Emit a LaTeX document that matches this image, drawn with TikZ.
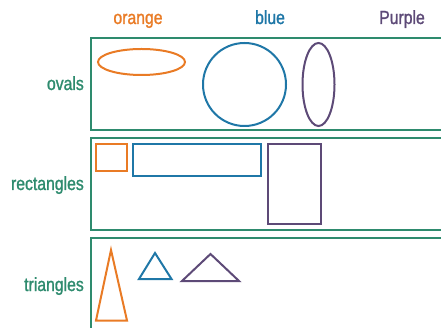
\documentclass[tikz,border=0pt]{standalone}
\usepackage{fontspec}
\setmainfont{Liberation Sans}[FakeStretch=0.83,FakeBold=1.3]
\definecolor{cgreen}{HTML}{2E8B6E}
\definecolor{corange}{HTML}{E97B25}
\definecolor{cblue}{HTML}{1F77A7}
\definecolor{cpurple}{HTML}{5D4A77}
\begin{document}
\begin{tikzpicture}[x=1pt,y=-1pt,
  panel/.style={draw=cgreen,line width=2.2pt},
  shp/.style={line width=2pt,line join=miter},
  toplab/.style={font=\fontsize{19}{20}\selectfont,inner sep=0pt,anchor=base},
  rowlab/.style={font=\fontsize{19}{20}\selectfont,inner sep=0pt,anchor=base east,text=cgreen}]
\useasboundingbox (0,0) rectangle (441,328);
\clip (0,0) rectangle (441,328);
% column labels
\node[toplab,text=corange] (lo) at (138,24) {orange};
\node[toplab,text=cblue] (lb) at (270,24) {blue};
\node[toplab,text=cpurple] (lp) at (402,24) {Purple};
% row labels
\node[rowlab] (rov) at (84,90) {ovals};
\node[rowlab] (rre) at (84,190) {rectangles};
\node[rowlab] (rtr) at (84,291) {triangles};
% panels
\draw[panel] (91,38) rectangle (450,130);
\draw[panel] (91,138) rectangle (450,230);
\draw[panel] (91,238) rectangle (450,340);
% ovals
\draw[shp,draw=corange] (141.5,62) ellipse [x radius=43.5,y radius=13];
\draw[shp,draw=cblue] (244.5,84.5) circle [radius=41.5];
\draw[shp,draw=cpurple] (318.5,84.5) ellipse [x radius=16,y radius=41.5];
% rectangles
\draw[shp,draw=corange] (96,144) rectangle (127,171);
\draw[shp,draw=cblue] (133,144) rectangle (261,176);
\draw[shp,draw=cpurple] (268,144) rectangle (321,224);
% triangles
\draw[shp,draw=corange] (111,250) -- (127,320.5) -- (96,320.5) -- cycle;
\draw[shp,draw=cblue] (155,253) -- (171.5,279) -- (139,279) -- cycle;
\draw[shp,draw=cpurple] (210.5,254) -- (239,281) -- (182,281) -- cycle;
\end{tikzpicture}
\end{document}
